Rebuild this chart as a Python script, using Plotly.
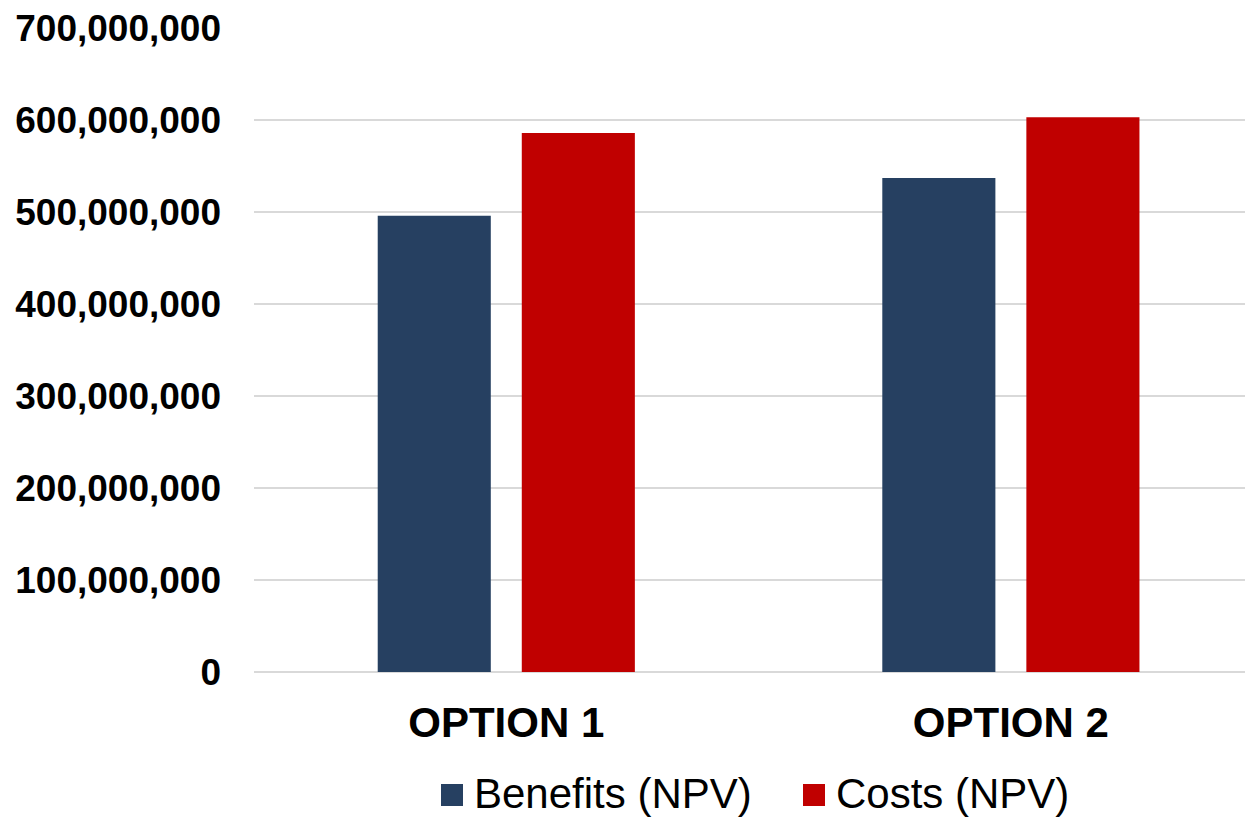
import plotly.graph_objects as go

categories = ["OPTION 1", "OPTION 2"]
benefits_npv = [496_000_000, 537_000_000]
costs_npv = [586_000_000, 603_000_000]
y_ticks = [0, 100_000_000, 200_000_000, 300_000_000, 400_000_000,
           500_000_000, 600_000_000, 700_000_000]
series_names = ["Benefits (NPV)", "Costs (NPV)"]
series_colors = ["#264061", "#C00000"]

FONT = "Liberation Sans, Arial, sans-serif"
W, H = 1245, 817
M_L, M_R, M_T, M_B = 254, 0, 28, 145
PLOT_W = W - M_L - M_R
PLOT_H = H - M_T - M_B


def px_x(x):
    """Pixel column -> paper x."""
    return (x - M_L) / PLOT_W


def px_y(y):
    """Pixel row -> paper y."""
    return (H - M_B - y) / PLOT_H


fig = go.Figure()
for name, vals, color in zip(series_names, [benefits_npv, costs_npv], series_colors):
    fig.add_trace(go.Bar(name=name, x=categories, y=vals,
                         marker=dict(color=color, line=dict(width=0)),
                         showlegend=False))

# Legend drawn as square swatches with labels beneath the axis
legend_items = [(441, 472), (803, 834)]
for (sq_left, txt_left), name, color in zip(legend_items, series_names, series_colors):
    fig.add_shape(type="rect", xref="paper", yref="paper",
                  x0=px_x(sq_left), x1=px_x(sq_left + 22),
                  y0=px_y(806), y1=px_y(784),
                  fillcolor=color, line=dict(width=0))
    fig.add_annotation(xref="paper", yref="paper", x=px_x(txt_left), y=px_y(793),
                       xanchor="left", yanchor="middle", showarrow=False,
                       text=name, font=dict(family=FONT, size=42, color="black"))

fig.update_layout(
    width=W, height=H,
    margin=dict(l=M_L, r=M_R, t=M_T, b=M_B, autoexpand=False),
    paper_bgcolor="white", plot_bgcolor="white",
    barmode="group", bargap=0.429, bargroupgap=0.215,
    font=dict(family=FONT, color="black"),
    showlegend=False,
)
fig.update_xaxes(
    type="category", range=[-0.5, 1.464],
    showgrid=False, showline=False, ticks="",
    tickfont=dict(family=FONT, size=42, color="black", weight="bold"),
    ticklabelstandoff=22,
)
fig.update_yaxes(
    range=[0, 700_000_000], tickvals=y_ticks, tickformat=",",
    showgrid=True, gridcolor="#D9D9D9", gridwidth=2,
    zeroline=True, zerolinecolor="#D9D9D9", zerolinewidth=2,
    showline=False, ticks="",
    tickfont=dict(family=FONT, size=37, color="black", weight="bold"),
    ticklabelstandoff=32,
)

fig.write_html("out.html")
